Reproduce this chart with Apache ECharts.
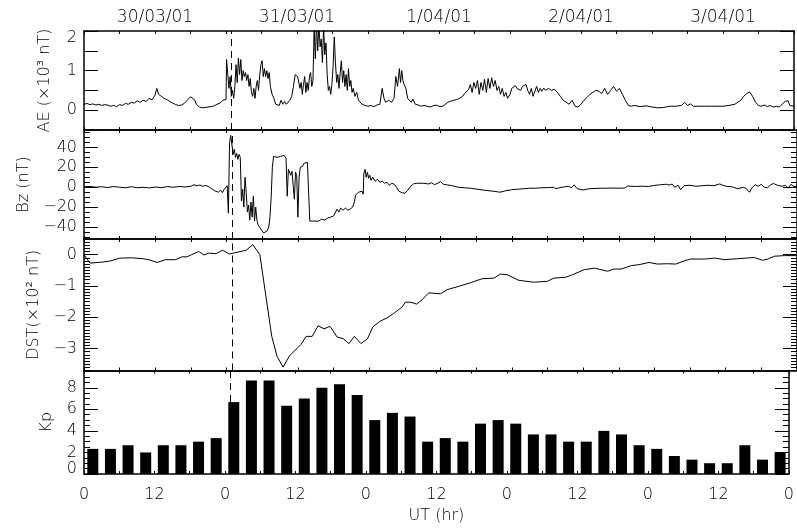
<!DOCTYPE html>
<html><head><meta charset="utf-8">
<script src="https://cdn.jsdelivr.net/npm/echarts@6/dist/echarts.min.js"></script>
<style>html,body{margin:0;padding:0;background:#fff}#c{width:797px;height:529px}</style>
</head><body><div id="c"></div>
<script>
const dateLabels = ['30/03/01','31/03/01','1/04/01','2/04/01','3/04/01'];
const hourLabels = ['0','12','0','12','0','12','0','12','0','12','0'];
const sscHour = 24.87;

// AE index (x10^3 nT), [hour, value]
const aeData = [[0,0.15],[0.5,0.17],[1,0.14],[1.5,0.16],[2,0.13],[2.5,0.15],[3,0.12],[3.5,0.14],[4,0.13],[4.5,0.10],[5,0.12],[5.5,0.09],[6,0.14],[6.5,0.12],[7,0.17],[7.5,0.15],[8,0.20],[8.5,0.18],[9,0.24],[9.5,0.20],[10,0.25],[10.5,0.22],[11,0.30],[11.5,0.26],[12,0.38],[12.3,0.55],[12.6,0.40],[13,0.36],[13.5,0.30],[14,0.27],[14.5,0.22],[15,0.18],[15.5,0.14],[16,0.12],[16.5,0.13],[17,0.18],[17.5,0.26],[18,0.34],[18.3,0.36],[18.7,0.26],[19,0.15],[19.5,0.08],[20,0.06],[20.5,0.07],[21,0.08],[21.5,0.09],[22,0.11],[22.5,0.15],[23,0.18],[23.5,0.25],[24,0.27],[24.1,1.28],[24.3,0.9],[24.5,0.55],[24.7,0.85],[24.9,0.35],[25.1,0.5],[25.3,0.3],[25.5,0.6],[25.7,1.15],[25.9,0.7],[26.1,1.32],[26.3,0.9],[26.5,1.28],[26.7,0.75],[26.9,1.0],[27.1,0.85],[27.3,0.95],[27.5,0.75],[27.7,0.9],[27.9,0.6],[28.1,0.8],[28.3,0.45],[28.5,0.35],[28.7,0.55],[28.9,0.3],[29.1,0.6],[29.3,0.75],[29.5,0.5],[29.7,0.9],[29.9,1.15],[30.1,1.25],[30.3,0.85],[30.5,1.05],[30.7,0.85],[30.9,1.0],[31.1,0.8],[31.3,0.95],[31.5,0.6],[31.8,0.4],[32.1,0.3],[32.4,0.15],[32.7,0.2],[33,0.12],[33.3,0.25],[33.6,0.15],[33.9,0.22],[34.2,0.15],[34.5,0.2],[34.8,0.25],[35.1,0.35],[35.4,0.6],[35.7,0.9],[35.9,0.95],[36.1,0.85],[36.3,0.9],[36.5,0.55],[36.7,0.7],[36.9,0.4],[37.1,0.65],[37.3,0.85],[37.5,0.45],[37.7,0.7],[37.9,0.5],[38.1,0.85],[38.3,0.95],[38.5,0.6],[38.7,0.75],[38.9,2.1],[39.1,1.3],[39.3,2.2],[39.5,1.5],[39.7,2.2],[39.9,1.6],[40.1,1.8],[40.3,1.2],[40.5,2.1],[40.7,1.4],[40.9,1.7],[41.1,0.9],[41.3,0.5],[41.5,0.6],[41.7,0.4],[41.9,0.65],[42.1,1.1],[42.3,1.85],[42.5,1.2],[42.7,0.7],[42.9,0.9],[43.1,0.55],[43.3,0.95],[43.5,1.25],[43.7,0.7],[43.9,1.0],[44.1,0.6],[44.3,0.9],[44.5,0.5],[44.7,1.05],[44.9,0.6],[45.1,0.75],[45.3,0.45],[45.5,0.55],[45.8,0.35],[46.1,0.45],[46.4,0.25],[46.7,0.3],[47,0.15],[47.5,0.12],[48,0.1],[48.5,0.12],[49,0.09],[49.5,0.13],[50,0.15],[50.4,0.55],[50.7,0.3],[51,0.2],[51.5,0.25],[52,0.2],[52.4,0.3],[52.7,0.85],[53,0.6],[53.3,1.05],[53.5,0.7],[53.7,1.0],[53.9,0.75],[54.1,0.65],[54.4,0.55],[54.7,0.3],[55,0.25],[55.3,0.2],[55.6,0.28],[56,0.15],[56.5,0.13],[57,0.1],[57.5,0.12],[58,0.1],[58.5,0.08],[59,0.11],[59.5,0.13],[60,0.1],[60.5,0.09],[61,0.14],[61.5,0.2],[62,0.23],[62.5,0.25],[63,0.27],[63.5,0.3],[64,0.35],[64.3,0.42],[64.6,0.38],[65,0.52],[65.3,0.65],[65.6,0.45],[65.9,0.7],[66.2,0.55],[66.5,0.75],[66.8,0.4],[67.1,0.7],[67.4,0.5],[67.7,0.78],[68,0.45],[68.3,0.8],[68.6,0.55],[68.9,0.82],[69.2,0.6],[69.5,0.75],[69.8,0.5],[70.1,0.6],[70.4,0.4],[70.7,0.55],[71,0.35],[71.3,0.45],[71.6,0.3],[72,0.4],[72.3,0.55],[72.6,0.5],[72.9,0.62],[73.2,0.55],[73.5,0.6],[73.8,0.5],[74.1,0.6],[74.4,0.55],[74.7,0.65],[75,0.5],[75.3,0.4],[75.6,0.55],[75.9,0.35],[76.2,0.38],[76.5,0.6],[76.8,0.45],[77.1,0.55],[77.4,0.48],[77.7,0.56],[78,0.5],[78.5,0.55],[79,0.5],[79.5,0.53],[80,0.45],[80.5,0.35],[81,0.25],[81.5,0.2],[82,0.15],[82.5,0.25],[83,0.1],[83.5,0.08],[84,0.15],[84.5,0.25],[85,0.32],[85.5,0.4],[86,0.45],[86.5,0.5],[87,0.48],[87.5,0.42],[88,0.55],[88.5,0.4],[89,0.5],[89.5,0.6],[90,0.48],[90.5,0.55],[91,0.4],[91.5,0.25],[92,0.12],[92.5,0.1],[93,0.12],[94,0.09],[95,0.11],[96,0.08],[97,0.06],[98,0.07],[99,0.1],[100,0.1],[101,0.12],[101.5,0.2],[102,0.12],[102.5,0.16],[103,0.1],[104,0.1],[105,0.1],[106,0.1],[107,0.1],[108,0.1],[109,0.12],[110,0.15],[110.5,0.2],[111,0.25],[111.5,0.35],[112,0.42],[112.5,0.46],[113,0.35],[113.5,0.2],[114,0.12],[114.5,0.1],[115,0.13],[115.5,0.09],[116,0.12],[116.5,0.08],[117,0.1],[117.5,0.08],[118,0.15],[118.5,0.22],[119,0.24],[119.3,0.12],[119.6,0.1],[120,0.1]];

// Bz (nT), [hour, value]
const bzData = [[0,0.5],[1,0.8],[2,0],[3,0.5],[4,-0.3],[5,0.7],[6,0],[7,-0.5],[8,0.5],[9,-0.5],[10,0],[11,-0.7],[12,0.3],[13,-0.5],[14,0.6],[15,0],[16,0.8],[17,0.2],[18,1.0],[18.5,2.5],[19,1.5],[19.5,2.2],[20,1],[20.5,1.8],[21,0.5],[21.3,1.5],[21.6,-2],[22,-3.5],[22.3,-2],[22.6,-5],[23,-3],[23.3,-5.5],[23.6,-2],[23.9,-1],[24.1,1.5],[24.3,-26],[24.5,45],[24.7,52],[24.9,50],[25.1,33],[25.3,38],[25.5,30],[25.7,34],[25.9,28],[26.1,33],[26.3,30],[26.5,-14],[26.7,-2],[26.9,-20],[27.1,10],[27.3,-5],[27.5,-25],[27.7,-18],[27.9,-33],[28.1,-15],[28.3,-30],[28.5,-9],[28.7,-34],[28.9,-20],[29.1,-33],[29.3,-38],[29.6,-40],[29.9,-43],[30.2,-46],[30.5,-47],[30.8,-44],[31.1,-40],[31.3,-30],[31.5,-10],[31.7,20],[31.9,31],[32.2,33],[32.5,30],[32.8,32],[33.1,31],[33.4,30],[33.7,32],[34,29],[34.2,-9],[34.4,18],[34.6,17],[34.8,12],[35,16],[35.2,14],[35.4,-12],[35.6,15],[35.8,12],[36,-30],[36.2,10],[36.4,20],[36.6,22],[36.8,21],[37,24],[37.3,23],[37.6,25],[37.8,24],[38,-34],[38.3,-35],[38.7,-34],[39,-33],[39.5,-34],[40,-32],[40.5,-33],[41,-31],[41.5,-30],[42,-29],[42.3,-27],[42.6,-22],[42.9,-25],[43.2,-21],[43.6,-23],[44,-21],[44.4,-23],[44.8,-22],[45.2,-20],[45.5,-15],[45.7,-8],[46,-10],[46.2,-5],[46.5,-6],[46.8,-4],[47,-7],[47.1,14],[47.3,18],[47.5,10],[47.7,15],[47.9,9],[48.1,12],[48.3,7],[48.6,10],[49,6],[49.4,8],[49.8,5],[50.2,6],[50.6,4],[51,5],[51.4,2],[51.8,4],[52.2,3],[52.6,0],[53,-4],[53.5,-5.5],[54,-6],[54.5,-3],[55,1],[55.5,3.5],[56,4],[57,4],[58,3.3],[58.5,4.5],[59,2.5],[60,5.6],[60.5,3],[61,2.5],[62,1.5],[63,0],[64,-0.5],[65,-1],[66,-1.8],[67,-2.7],[68,-3.5],[69,-4],[70,-5],[71,-3.5],[72,-2.5],[73,-2],[74,-1.5],[75,-1],[76,-1],[77,-0.5],[78,-0.4],[79,0],[79.4,-1.5],[80,-0.5],[81,0.5],[81.5,1],[82,-0.5],[82.5,2.3],[83,-1.5],[84,-2.7],[85,-1.5],[86,-1.2],[87,-1],[88,-1],[89,-0.8],[90,-1],[91,-0.8],[91.5,1.2],[92,1],[93,0.8],[94,1],[95,0.8],[96,1.8],[97,2.5],[98,3],[98.5,2.2],[99,3.2],[99.4,0],[100,2],[100.4,-2.5],[101,1.5],[102,2],[103,1],[104,1.5],[105,2],[106,1.5],[107,3.3],[107.5,2],[108,1],[109,0.5],[110,-1.5],[111,0],[111.5,-1.5],[112,-5],[112.5,0],[113,2.5],[113.5,1],[114,3],[114.5,0],[115,-0.5],[115.5,2],[116,3.8],[116.3,4],[116.7,2],[117,2.8],[117.5,1],[118,2],[118.5,-1],[119,3],[119.5,0.5],[120,1]];

// Dst (x10^2 nT), [hour, value]
const dstData = [[0,0.0],[1,-0.27],[3,-0.24],[4.5,-0.2],[6,-0.11],[8,-0.1],[10,-0.13],[11,-0.17],[12.3,-0.25],[13.7,-0.16],[15.4,-0.16],[16.5,-0.07],[17.3,-0.07],[18.1,0.0],[19.3,0.1],[20.2,-0.01],[21,0.05],[22.2,0.03],[23.3,0.14],[24.5,0.02],[25.6,0.07],[27.3,0.14],[28.4,0.32],[29.6,0.0],[30.7,-1.44],[31.6,-2.61],[32.5,-3.25],[33.5,-3.59],[34.6,-3.23],[36.5,-2.87],[37.4,-2.61],[38.4,-2.61],[39.4,-2.27],[40.4,-2.37],[41.4,-2.29],[42.6,-2.63],[43.7,-2.69],[44.6,-2.84],[45.5,-2.61],[46.6,-2.84],[47.7,-2.69],[48.6,-2.31],[49.8,-2.13],[51,-2.02],[52.1,-1.88],[53.5,-1.68],[54.1,-1.52],[55,-1.52],[56,-1.58],[56.9,-1.44],[58,-1.22],[60,-1.25],[61.1,-1.12],[63.1,-1.01],[65,-0.9],[67,-0.77],[69,-0.75],[70.1,-0.62],[71.2,-0.64],[73.2,-0.82],[75.7,-0.88],[78,-0.85],[79.1,-0.75],[81.1,-0.72],[82.2,-0.64],[84.2,-0.48],[85.9,-0.43],[88.1,-0.53],[89.2,-0.46],[90.4,-0.46],[92.1,-0.35],[93.4,-0.32],[95.1,-0.25],[96.5,-0.3],[98.2,-0.29],[99.6,-0.3],[101.3,-0.18],[102.1,-0.14],[104.6,-0.14],[106.1,-0.11],[107.8,-0.16],[110,-0.13],[112.8,-0.09],[114.2,-0.18],[115.1,-0.14],[116.2,-0.05],[117.9,-0.03],[120,-0.03]];

// Kp, 3-hourly
const kpHours = [1.5,4.5,7.5,10.5,13.5,16.5,19.5,22.5,25.5,28.5,31.5,34.5,37.5,40.5,43.5,46.5,49.5,52.5,55.5,58.5,61.5,64.5,67.5,70.5,73.5,76.5,79.5,82.5,85.5,88.5,91.5,94.5,97.5,100.5,103.5,106.5,109.5,112.5,115.5,118.5];
const kpValues = [2.33,2.33,2.67,2,2.67,2.67,3,3.33,6.67,8.67,8.67,6.33,7,8,8.33,7.33,5,5.67,5.33,3,3.33,3,4.67,5,4.67,3.67,3.67,3,3,4,3.67,2.67,2.33,1.67,1.33,1,1,2.67,1.33,2];

// axis tick values
const aeLabels = [0,1,2];
const bzMajor = [-40,-20,0,20,40];
const bzMinor = [-50,-45,-35,-30,-25,-15,-10,-5,5,10,15,25,30,35,45,50,55];
const dstMajor = [-3,-2,-1,0];
const kpMajor = [0,2,4,6,8];
const kpMinor = [0.5,1,1.5,2.5,3,3.5,4.5,5,5.5,6.5,7,7.5,8.5,9,9.5];
function steps(a, b, s) { const r = []; for (let v = a; v <= b + 1e-9; v += s) r.push(Math.round(v * 10) / 10); return r; }
const dstMinor = steps(-3.7, 0.5, 0.1);

const FONT = 'DejaVu Sans';
const FW = 300;
const TXT = '#000';
const grids = [
  {left: 84, right: 0, top: 31, height: 99},
  {left: 84, right: 0, top: 130, height: 109},
  {left: 84, right: 0, top: 239, height: 131.5},
  {left: 84, right: 0, top: 370.5, height: 103.5}
];
const minus = v => String(v).replace('-', '\u2212');

const xAxes = [];
grids.forEach((g, gi) => {
  ['bottom', 'top'].forEach(pos => {
    const ax = {type: 'value', gridIndex: gi, position: pos, min: 0, max: 120, interval: 6,
      axisLine: {show: true, onZero: false, lineStyle: {color: '#000', width: 1.5}},
      axisTick: {show: true, inside: true, length: 3, lineStyle: {color: '#000', width: 1}},
      axisLabel: {show: false}, splitLine: {show: false}};
    if (gi === 3 && pos === 'bottom') {
      ax.axisLabel = {show: true, margin: 13, fontFamily: FONT, fontWeight: FW, fontSize: 16, color: TXT, showMinLabel: true, showMaxLabel: true, hideOverlap: false,
        formatter: v => (v % 12 === 0 ? hourLabels[v / 12] : '')};
      ax.name = 'UT (hr)'; ax.nameLocation = 'middle'; ax.nameGap = 34;
      ax.nameTextStyle = {fontFamily: FONT, fontWeight: FW, fontSize: 16, color: TXT, verticalAlign: 'top'};
    }
    if (gi === 0 && pos === 'top') {
      ax.axisLabel = {show: true, margin: 5, fontFamily: FONT, fontWeight: FW, fontSize: 17, color: TXT, hideOverlap: false,
        formatter: v => (v % 24 === 12 ? dateLabels[(v - 12) / 24] : '')};
    }
    xAxes.push(ax);
  });
});

const cfgs = [
  {min: -0.5, max: 2, interval: 0.5, major: null, minor: [], labels: aeLabels, name: 'AE (\u00d710\u00b3 nT)', gap: 31},
  {min: -52, max: 57.5, major: bzMajor, minor: bzMinor, labels: bzMajor, name: 'Bz (nT)', gap: 52},
  {min: -3.7, max: 0.5, major: dstMajor, minor: dstMinor, labels: dstMajor, name: 'DST(\u00d710\u00b2 nT)', gap: 42},
  {min: 0, max: 9.6, major: kpMajor, minor: kpMinor, labels: kpMajor, name: 'Kp', gap: 29}
];
const yAxes = [];
cfgs.forEach((c, gi) => {
  ['left', 'right'].forEach(pos => {
    const major = {type: 'value', gridIndex: gi, position: pos, min: c.min, max: c.max,
      axisLine: {show: true, onZero: false, lineStyle: {color: '#000', width: 1.5}},
      axisTick: {show: true, inside: true, length: 14, lineStyle: {color: '#000', width: 1}},
      axisLabel: {show: false}, splitLine: {show: false}};
    if (c.interval) major.interval = c.interval;
    if (c.major) major.axisTick.customValues = c.major;
    if (pos === 'left') {
      major.axisLabel = {show: true, customValues: c.labels, margin: 7, fontFamily: FONT, fontWeight: FW, fontSize: 16, color: TXT, hideOverlap: false,
        showMinLabel: true, showMaxLabel: true,
        formatter: v => {
          if (gi === 0 && v === 2) return '{dn|2}';
          if (gi === 3 && v === 0) return '{up|0}';
          return minus(v);
        },
        rich: {
          dn: {fontFamily: FONT, fontWeight: FW, fontSize: 16, color: TXT, padding: [14, 0, 0, 0]},
          up: {fontFamily: FONT, fontWeight: FW, fontSize: 16, color: TXT, padding: [0, 0, 10, 0]}
        }};
      major.name = c.name; major.nameLocation = 'middle'; major.nameGap = c.gap; major.nameRotate = 90;
      major.nameTextStyle = {fontFamily: FONT, fontWeight: FW, fontSize: 16, color: TXT};
    }
    yAxes.push(major);
    yAxes.push({type: 'value', gridIndex: gi, position: pos, min: c.min, max: c.max,
      axisLine: {show: false, onZero: false},
      axisTick: {show: c.minor.length > 0, inside: true, length: 6, customValues: c.minor, lineStyle: {color: '#000', width: 1}},
      axisLabel: {show: false}, splitLine: {show: false}});
  });
});

const mk = {silent: true, symbol: ['none', 'none'], label: {show: false}, animation: false,
  lineStyle: {color: '#000', type: [7, 5], width: 1}, data: [{xAxis: sscHour}]};
const lineStyle = {color: '#000', width: 1};

const option = {
  animation: false,
  backgroundColor: '#fff',
  grid: grids,
  xAxis: xAxes,
  yAxis: yAxes,
  series: [
    {type: 'line', xAxisIndex: 0, yAxisIndex: 0, data: aeData, showSymbol: false, symbol: 'none', lineStyle, clip: true, markLine: mk},
    {type: 'line', xAxisIndex: 2, yAxisIndex: 4, data: bzData, showSymbol: false, symbol: 'none', lineStyle, clip: true, markLine: mk},
    {type: 'line', xAxisIndex: 4, yAxisIndex: 8, data: dstData, showSymbol: false, symbol: 'none', lineStyle, clip: true, markLine: mk},
    {type: 'bar', xAxisIndex: 6, yAxisIndex: 12, data: kpHours.map((h, i) => [h, kpValues[i]]), barWidth: 11, itemStyle: {color: '#000'}, clip: true, markLine: mk}
  ]
};
const chart = echarts.init(document.getElementById('c'), null, {renderer: 'canvas'});
chart.setOption(option);
</script></body></html>
